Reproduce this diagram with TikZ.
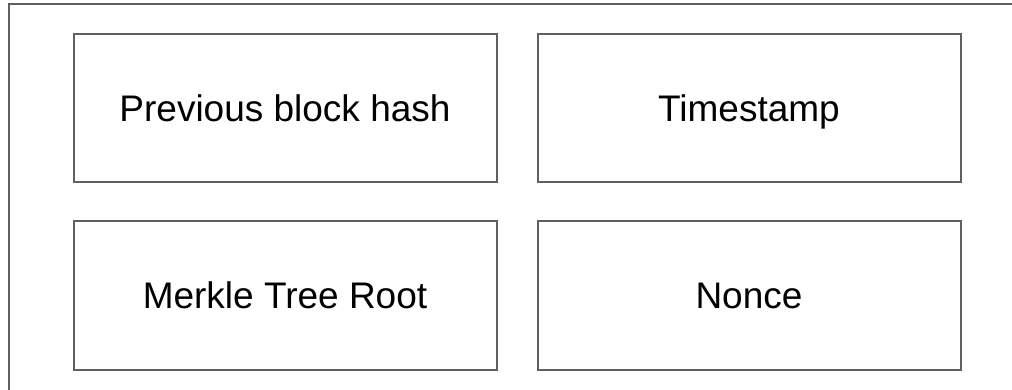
\documentclass[tikz,border=0pt]{standalone}
\usepackage{fontspec}
\setmainfont{Liberation Sans}
\definecolor{framegray}{HTML}{5f5f5f}
\tikzset{
	field/.style={draw=framegray, line width=2pt, minimum width=423pt, minimum height=148pt,
		inner sep=0pt, text height=26.5pt, text depth=0pt, font=\fontsize{37}{40}\selectfont}
}
\begin{document}
\begin{tikzpicture}[x=1pt,y=-1pt]
	\useasboundingbox (0,0) rectangle (1012,390);
	\clip (0,0) rectangle (1012,390);

	% header frame
	\draw[framegray, line width=2pt] (1030,4.5) -- (8.5,4.5) -- (8.5,400);

	% fields
	\node[field] (prevhash) at (285,108) {Previous block hash};
	\node[field] (timestamp) at (749,108) {Timestamp};
	\node[field] (merkleroot) at (285,295.5) {Merkle Tree Root};
	\node[field] (nonce) at (749,295.5) {Nonce};
\end{tikzpicture}
\end{document}
